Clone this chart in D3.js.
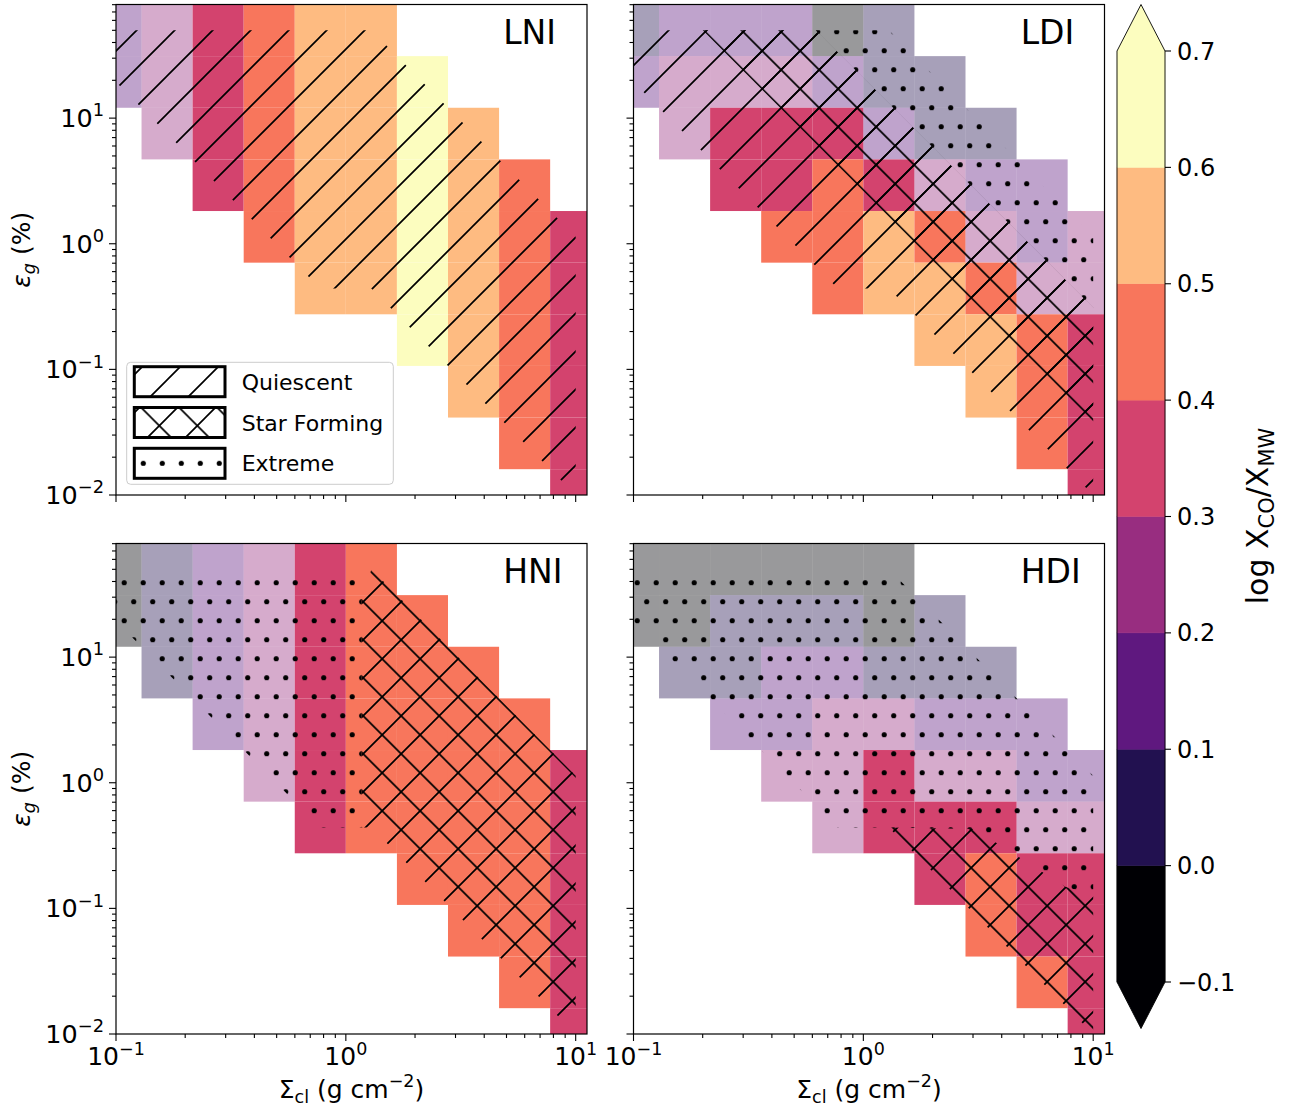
<!DOCTYPE html>
<html><head><meta charset="utf-8">
<script src="https://cdn.jsdelivr.net/npm/d3@7"></script>
<style>body{margin:0;background:#fff}svg{display:block}text{font-family:"DejaVu Sans",sans-serif;fill:#000}</style>
</head><body><svg id="c" width="1290" height="1113"></svg>
<script>
// ---------------- DATA ----------------
const sigmaCenters = [0.1, 0.16681, 0.27826, 0.46416, 0.77426, 1.29155, 2.15443, 3.59381, 5.99484, 10];
const epsCenters = [0.01, 0.025763, 0.066373, 0.17100, 0.44054, 1.13497, 2.92402, 7.5332, 19.408, 50];
const panelNames = ["LNI", "LDI", "HNI", "HDI"];
// log X_CO/X_MW, rows from highest eps (top) to lowest eps (bottom), columns by Sigma_cl
const xcoLNI = [
  [0.15,0.25,0.35,0.45,0.55,0.55,null,null,null,null],
  [0.15,0.25,0.35,0.45,0.55,0.55,0.65,null,null,null],
  [null,0.25,0.35,0.45,0.55,0.55,0.65,0.55,null,null],
  [null,null,0.35,0.45,0.55,0.55,0.65,0.55,0.45,null],
  [null,null,null,0.45,0.55,0.55,0.65,0.55,0.45,0.35],
  [null,null,null,null,0.55,0.55,0.65,0.55,0.45,0.35],
  [null,null,null,null,null,null,0.65,0.55,0.45,0.35],
  [null,null,null,null,null,null,null,0.55,0.45,0.35],
  [null,null,null,null,null,null,null,null,0.45,0.35],
  [null,null,null,null,null,null,null,null,null,0.35]];
const xcoLDI = [
  [0.05,0.15,0.15,0.15,-0.05,0.05,null,null,null,null],
  [0.15,0.25,0.25,0.25,0.15,0.05,0.05,null,null,null],
  [null,0.25,0.35,0.35,0.35,0.15,0.05,0.05,null,null],
  [null,null,0.35,0.35,0.45,0.35,0.25,0.15,0.15,null],
  [null,null,null,0.45,0.45,0.55,0.45,0.25,0.15,0.25],
  [null,null,null,null,0.45,0.55,0.55,0.45,0.25,0.25],
  [null,null,null,null,null,null,0.55,0.55,0.45,0.35],
  [null,null,null,null,null,null,null,0.55,0.45,0.35],
  [null,null,null,null,null,null,null,null,0.45,0.35],
  [null,null,null,null,null,null,null,null,null,0.35]];
const xcoHNI = [
  [-0.05,0.05,0.15,0.25,0.35,0.45,null,null,null,null],
  [-0.05,0.05,0.15,0.25,0.35,0.45,0.45,null,null,null],
  [null,0.05,0.15,0.25,0.35,0.45,0.45,0.45,null,null],
  [null,null,0.15,0.25,0.35,0.45,0.45,0.45,0.45,null],
  [null,null,null,0.25,0.35,0.45,0.45,0.45,0.45,0.35],
  [null,null,null,null,0.35,0.45,0.45,0.45,0.45,0.35],
  [null,null,null,null,null,null,0.45,0.45,0.45,0.35],
  [null,null,null,null,null,null,null,0.45,0.45,0.35],
  [null,null,null,null,null,null,null,null,0.45,0.35],
  [null,null,null,null,null,null,null,null,null,0.35]];
const xcoHDI = [
  [-0.05,-0.05,-0.05,-0.05,-0.05,-0.05,null,null,null,null],
  [-0.05,-0.05,0.05,0.05,0.05,-0.05,0.05,null,null,null],
  [null,0.05,0.05,0.15,0.15,0.05,0.05,0.05,null,null],
  [null,null,0.15,0.15,0.25,0.25,0.15,0.15,0.15,null],
  [null,null,null,0.25,0.25,0.35,0.25,0.25,0.15,0.15],
  [null,null,null,null,0.25,0.35,0.35,0.35,0.25,0.25],
  [null,null,null,null,null,null,0.35,0.45,0.35,0.35],
  [null,null,null,null,null,null,null,0.45,0.35,0.35],
  [null,null,null,null,null,null,null,null,0.45,0.35],
  [null,null,null,null,null,null,null,null,null,0.35]];
// regime regions, boundary points [Sigma_cl, eps_g]
const quiescentLNI = [[0.1,50],[1.29155,50],[10,1.13497],[10,0.01],[1.29155,0.44054],[0.77426,0.44054],[0.1,19.408]];
const quiescentLDI = [[0.1,50],[0.62,50],[10,0.31],[10,0.01],[1.29155,0.44054],[0.77426,0.44054],[0.1,19.408]];
const starFormingLDI = [[0.2,50],[0.62,50],[10,0.31],[10,0.0385]];
const extremeLDI = [[0.62,50],[1.29155,50],[10,1.13497],[10,0.31]];
const extremeHNI = [[0.1,50],[1.29155,50],[1.172,28.3],[1.172,0.44054],[0.77426,0.44054],[0.1,19.408]];
const starFormingHNI = [[1.29155,50],[10,1.13497],[10,0.01],[1.29155,0.44054],[1.172,0.44054],[1.172,28.3]];
const extremeHDI = [[0.1,50],[1.29155,50],[10,1.13497],[10,0.129],[7.59,0.148],[3.05,0.428],[1.29155,0.44054],[0.77426,0.44054],[0.1,19.408]];
const starFormingHDI = [[1.29155,0.44054],[3.05,0.428],[7.59,0.148],[10,0.129],[10,0.01]];
const xTickValues = [0.1, 1, 10];
const yTickValues = [0.01, 0.1, 1, 10];
const cbarBounds = [-0.1, 0.0, 0.1, 0.2, 0.3, 0.4, 0.5, 0.6, 0.7];
const cbarTickLabels = ["\u22120.1","0.0","0.1","0.2","0.3","0.4","0.5","0.6","0.7"];
const legendLabels = ["Quiescent", "Star Forming", "Extreme"];
const fadeBelow = Math.log10(2);

// ---------------- DRAW ----------------
const svg = d3.select("#c");
const defs = svg.append("defs");
const HW = 1.7;

function linePattern(id, ox, oy, d) {
  const p = defs.append("pattern").attr("id", id).attr("patternUnits", "userSpaceOnUse")
    .attr("x", ox).attr("y", oy).attr("width", 38).attr("height", 38);
  p.append("path").attr("d", d).attr("stroke", "#000").attr("stroke-width", HW).attr("fill", "none");
}
const FWD = "M0,38L38,0M-9.5,9.5L9.5,-9.5M28.5,47.5L47.5,28.5";
const BWD = "M0,0L38,38M28.5,-9.5L47.5,9.5M-9.5,28.5L9.5,47.5";
linePattern("hF", 15, 0, FWD);
linePattern("hB", 27.3, 0, BWD);
linePattern("lhB", 37.6, 0, BWD);
function dotPattern(id, ox, oy) {
  const p = defs.append("pattern").attr("id", id).attr("patternUnits", "userSpaceOnUse")
    .attr("x", ox).attr("y", oy).attr("width", 19).attr("height", 38);
  p.append("circle").attr("cx", 4.75).attr("cy", 28.5).attr("r", 2.6).attr("fill", "#000");
  p.append("circle").attr("cx", 14.25).attr("cy", 9.5).attr("r", 2.6).attr("fill", "#000");
}
dotPattern("hD", 0.7 - 4.75, 12.7 - 9.5);
dotPattern("lhD", 10.3 - 14.25, 463.3 - 9.5);

const binColors = d3.range(8).map(k => d3.interpolateMagma(k / 7));
const color = d3.scaleThreshold().domain(cbarBounds.slice(1, 8)).range(binColors);

function edgesOf(c) {
  const n = c.length, e = [];
  e.push(c[0] / Math.sqrt(c[1] / c[0]));
  for (let i = 1; i < n; i++) e.push(Math.sqrt(c[i - 1] * c[i]));
  e.push(c[n - 1] * Math.sqrt(c[n - 1] / c[n - 2]));
  return e;
}
const sigEdges = edgesOf(sigmaCenters), epsEdges = edgesOf(epsCenters);
const xMax = 11.2;

const layout = [
  {x0: 116, x1: 587, y0: 4.5, y1: 495, grid: xcoLNI, q: quiescentLNI, sf: null, ex: null, showX: false, showY: true},
  {x0: 633.5, x1: 1104.5, y0: 4.5, y1: 495, grid: xcoLDI, q: quiescentLDI, sf: starFormingLDI, ex: extremeLDI, showX: false, showY: false},
  {x0: 116, x1: 587, y0: 543.5, y1: 1034, grid: xcoHNI, q: null, sf: starFormingHNI, ex: extremeHNI, showX: true, showY: true},
  {x0: 633.5, x1: 1104.5, y0: 543.5, y1: 1034, grid: xcoHDI, q: null, sf: starFormingHDI, ex: extremeHDI, showX: true, showY: false}
];

function supLabel(sel, exp, base, size) {
  sel.append("tspan").text(base);
  sel.append("tspan").attr("font-size", size * 0.7).attr("dy", -size * 0.42)
    .text(exp < 0 ? "\u2212" + Math.abs(exp) : String(exp));
}

layout.forEach((L, pi) => {
  const xs = d3.scaleLog().domain([0.1, xMax]).range([L.x0, L.x1]);
  const ys = d3.scaleLog().domain([0.01, epsEdges[10]]).range([L.y1, L.y0]);
  const g = svg.append("g");
  const clipId = "clip" + pi;
  defs.append("clipPath").attr("id", clipId).append("rect")
    .attr("x", L.x0).attr("y", L.y0).attr("width", L.x1 - L.x0).attr("height", L.y1 - L.y0);
  const pg = g.append("g").attr("clip-path", "url(#" + clipId + ")");
  // cells
  const cells = [];
  L.grid.forEach((row, i) => {
    const r = 9 - i;
    row.forEach((v, c) => { if (v !== null) cells.push({r, c, v}); });
  });
  pg.selectAll("rect.cell").data(cells).join("rect").attr("class", "cell")
    .attr("x", d => xs(sigEdges[d.c])).attr("width", d => xs(sigEdges[d.c + 1]) - xs(sigEdges[d.c]))
    .attr("y", d => ys(epsEdges[d.r + 1])).attr("height", d => ys(epsEdges[d.r]) - ys(epsEdges[d.r + 1]))
    .attr("fill", d => color(d.v)).attr("fill-opacity", d => d.v < fadeBelow ? 0.4 : 1);
  // hatch regions
  const line = d3.line().x(d => xs(d[0])).y(d => ys(d[1]));
  const region = (pts, pat) => pg.append("path").attr("d", line(pts) + "Z").attr("fill", "url(#" + pat + ")").attr("stroke", "none");
  if (L.q) region(L.q, "hF");
  if (L.sf) { region(L.sf, "hF"); region(L.sf, "hB"); }
  if (L.ex) region(L.ex, "hD");
  // spines
  g.append("rect").attr("x", L.x0).attr("y", L.y0).attr("width", L.x1 - L.x0).attr("height", L.y1 - L.y0)
    .attr("fill", "none").attr("stroke", "#000").attr("stroke-width", 1.2);
  // ticks
  const minorX = [], minorY = [];
  [0.1, 1, 10].forEach(d => { for (let k = 2; k <= 9; k++) if (d * k <= xMax) minorX.push(d * k); });
  [0.01, 0.1, 1, 10].forEach(d => { for (let k = 2; k <= 9; k++) if (d * k <= epsEdges[10]) minorY.push(d * k); });
  const tk = g.append("g").attr("stroke", "#000").attr("stroke-width", 1.1);
  xTickValues.forEach(v => tk.append("line").attr("x1", xs(v)).attr("x2", xs(v)).attr("y1", L.y1).attr("y2", L.y1 + 7));
  minorX.forEach(v => tk.append("line").attr("x1", xs(v)).attr("x2", xs(v)).attr("y1", L.y1).attr("y2", L.y1 + 4));
  yTickValues.forEach(v => tk.append("line").attr("y1", ys(v)).attr("y2", ys(v)).attr("x1", L.x0).attr("x2", L.x0 - 7));
  minorY.forEach(v => tk.append("line").attr("y1", ys(v)).attr("y2", ys(v)).attr("x1", L.x0).attr("x2", L.x0 - 4));
  if (L.showX) {
    xTickValues.forEach(v => {
      const t = g.append("text").attr("x", xs(v)).attr("y", L.y1 + 31).attr("text-anchor", "middle").attr("font-size", 25);
      supLabel(t, Math.round(Math.log10(v)), "10", 25);
    });
    const t = g.append("text").attr("x", (L.x0 + L.x1) / 2).attr("y", L.y1 + 64).attr("text-anchor", "middle").attr("font-size", 25);
    t.append("tspan").text("\u03A3");
    t.append("tspan").attr("font-size", 17.5).attr("dy", 5).text("cl");
    t.append("tspan").attr("dy", -5).text(" (g cm");
    t.append("tspan").attr("font-size", 17.5).attr("dy", -11).text("\u22122");
    t.append("tspan").attr("dy", 11).text(")");
  }
  if (L.showY) {
    yTickValues.forEach(v => {
      const t = g.append("text").attr("x", L.x0 - 12).attr("y", ys(v) + 9).attr("text-anchor", "end").attr("font-size", 25.5);
      supLabel(t, Math.round(Math.log10(v)), "10", 25.5);
    });
    const t = g.append("text").attr("transform", `translate(30,${(L.y0 + L.y1) / 2}) rotate(-90)`)
      .attr("text-anchor", "middle").attr("font-size", 25);
    t.append("tspan").attr("font-style", "italic").text("\u03B5");
    t.append("tspan").attr("font-style", "italic").attr("font-size", 17.5).attr("dy", 5).text("g");
    t.append("tspan").attr("dy", -5).text(" (%)");
  }
  // panel title
  g.append("text").attr("x", L.x0 + 0.822 * (L.x1 - L.x0)).attr("y", L.y0 + 39.8).attr("font-size", 33).text(panelNames[pi]);

  // legend in first panel
  if (pi === 0) {
    const lg = g.append("g");
    lg.append("rect").attr("x", 126.7).attr("y", 362.3).attr("width", 266.6).attr("height", 122).attr("rx", 4)
      .attr("fill", "#fff").attr("fill-opacity", 0.8).attr("stroke", "#cccccc").attr("stroke-width", 1);
    const fills = [["hF"], ["hF", "lhB"], ["lhD"]];
    legendLabels.forEach((lab, k) => {
      const cy = 381.7 + k * 40.8;
      const px = 134.3, pw = 90.7, ph = 30;
      lg.append("rect").attr("x", px).attr("y", cy - ph / 2).attr("width", pw).attr("height", ph).attr("fill", "#fff");
      fills[k].forEach(f => lg.append("rect").attr("x", px).attr("y", cy - ph / 2).attr("width", pw).attr("height", ph).attr("fill", "url(#" + f + ")"));
      lg.append("rect").attr("x", px).attr("y", cy - ph / 2).attr("width", pw).attr("height", ph)
        .attr("fill", "none").attr("stroke", "#000").attr("stroke-width", 3);
      lg.append("text").attr("x", 241.7).attr("y", cy + 8).attr("font-size", 22).text(lab);
    });
  }
});

// ---------------- COLORBAR ----------------
const cb = svg.append("g");
const cbx0 = 1117, cbx1 = 1165;
const cy = d3.scaleLinear().domain([-0.1, 0.7]).range([982, 51]);
const ext = 46.5;
for (let k = 0; k < 8; k++) {
  const c = color((cbarBounds[k] + cbarBounds[k + 1]) / 2);
  cb.append("rect").attr("x", cbx0).attr("width", cbx1 - cbx0)
    .attr("y", cy(cbarBounds[k + 1])).attr("height", cy(cbarBounds[k]) - cy(cbarBounds[k + 1]))
    .attr("fill", c).attr("stroke", c).attr("stroke-width", 0.5);
}
const mid = (cbx0 + cbx1) / 2;
cb.append("path").attr("d", `M${cbx0},${cy(0.7)}L${mid},${cy(0.7) - ext}L${cbx1},${cy(0.7)}Z`).attr("fill", color(0.8));
cb.append("path").attr("d", `M${cbx0},${cy(-0.1)}L${mid},${cy(-0.1) + ext}L${cbx1},${cy(-0.1)}Z`).attr("fill", color(-0.2));
cb.append("path").attr("d", `M${cbx0},${cy(0.7)}L${mid},${cy(0.7) - ext}L${cbx1},${cy(0.7)}L${cbx1},${cy(-0.1)}L${mid},${cy(-0.1) + ext}L${cbx0},${cy(-0.1)}Z`)
  .attr("fill", "none").attr("stroke", "#000").attr("stroke-width", 0.9);
cbarBounds.forEach((b, k) => {
  cb.append("line").attr("x1", cbx1).attr("x2", cbx1 + 6).attr("y1", cy(b)).attr("y2", cy(b)).attr("stroke", "#000").attr("stroke-width", 1.1);
  cb.append("text").attr("x", cbx1 + 12).attr("y", cy(b) + 8.5).attr("font-size", 24).text(cbarTickLabels[k]);
});
const cl = cb.append("text").attr("transform", "translate(1268,516) rotate(-90)").attr("text-anchor", "middle").attr("font-size", 30);
cl.append("tspan").text("log X");
cl.append("tspan").attr("font-size", 21).attr("dy", 6).text("CO");
cl.append("tspan").attr("dy", -6).text("/X");
cl.append("tspan").attr("font-size", 21).attr("dy", 6).text("MW");
</script></body></html>
